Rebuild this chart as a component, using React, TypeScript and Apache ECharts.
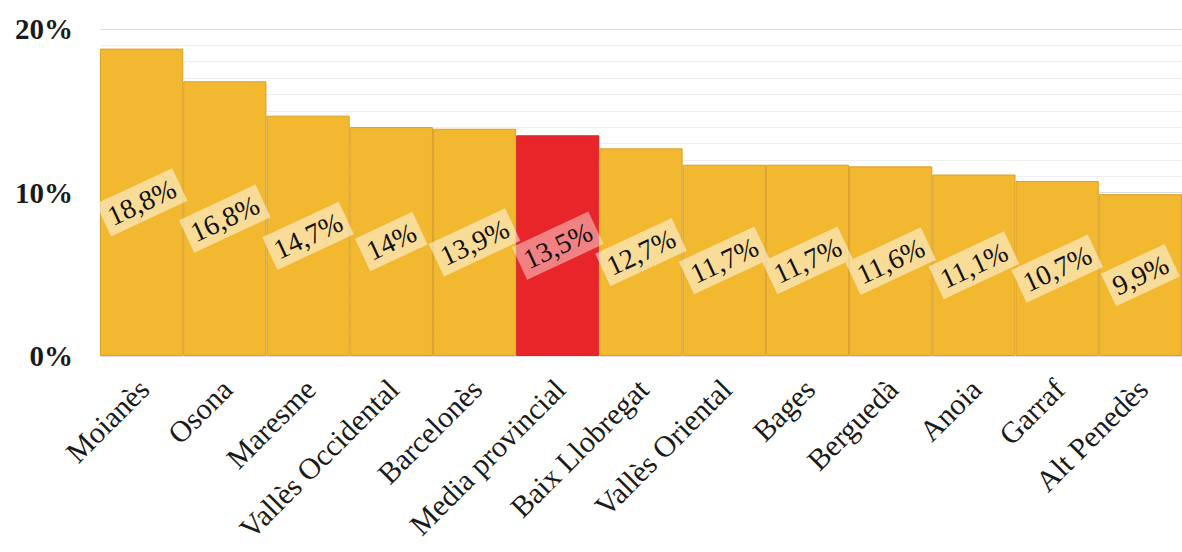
import React, { useEffect, useRef } from "react";
import * as echarts from "echarts";

const categories = [
  "Moianès",
  "Osona",
  "Maresme",
  "Vallès Occidental",
  "Barcelonès",
  "Media provincial",
  "Baix Llobregat",
  "Vallès Oriental",
  "Bages",
  "Berguedà",
  "Anoia",
  "Garraf",
  "Alt Penedès",
];
const values = [18.8, 16.8, 14.7, 14, 13.9, 13.5, 12.7, 11.7, 11.7, 11.6, 11.1, 10.7, 9.9];
const highlightIndex = 5;
const yTicks = [0, 10, 20];

const SERIF = "'Liberation Serif', 'DejaVu Serif', serif";

export default function App() {
  const ref = useRef<HTMLDivElement>(null);
  useEffect(() => {
    if (!ref.current) return;
    const chart = echarts.init(ref.current, undefined, { renderer: "svg" });
    const data = values.map((v, i) => {
      const hi = i === highlightIndex;
      return {
        value: v,
        itemStyle: {
          color: hi ? "#e8262a" : "#f2b830",
          borderColor: hi ? "#c9302a" : "#d9a02a",
          borderWidth: 1,
        },
        label: {
          backgroundColor: hi ? "rgba(255,255,255,0.42)" : "rgba(255,255,255,0.5)",
        },
      };
    });
    chart.setOption({
      animation: false,
      grid: {
        left: 100,
        right: 0,
        top: 29,
        bottom: 196,
        containLabel: false,
        outerBoundsMode: "none",
      },
      xAxis: {
        type: "category",
        data: categories,
        axisLine: { show: true, lineStyle: { color: "#e0e0e0" } },
        axisTick: { show: false },
        axisLabel: {
          rotate: 45,
          interval: 0,
          margin: 9,
          verticalAlign: "top",
          padding: [0, 12, 0, 0],
          fontFamily: SERIF,
          fontSize: 30,
          color: "#1a1a1a",
        },
      },
      yAxis: {
        type: "value",
        min: 0,
        max: yTicks[yTicks.length - 1],
        interval: 10,
        axisLine: { show: false },
        axisTick: { show: false },
        axisLabel: {
          formatter: (v: number) => `${v}%`,
          fontFamily: SERIF,
          fontSize: 29,
          fontWeight: "bold",
          color: "#1a1a1a",
          margin: 27,
        },
        splitLine: { show: true, lineStyle: { color: "#dcdcdc", width: 1 } },
        minorTick: { show: false, splitNumber: 10 },
        minorSplitLine: { show: true, lineStyle: { color: "#efefef", width: 1 } },
      },
      series: [
        {
          type: "bar",
          data,
          barCategoryGap: "0%",
          label: {
            show: true,
            position: "inside",
            rotate: 25,
            formatter: (p: any) => `${String(p.value).replace(".", ",")}%`,
            fontFamily: SERIF,
            fontSize: 28,
            color: "#111",
            padding: [4, 6],
          },
        },
      ],
    });
    return () => chart.dispose();
  }, []);
  return (
    <div
      ref={ref}
      style={{ position: "fixed", left: 0, top: 0, width: 1182, height: 552, background: "#fff" }}
    />
  );
}
